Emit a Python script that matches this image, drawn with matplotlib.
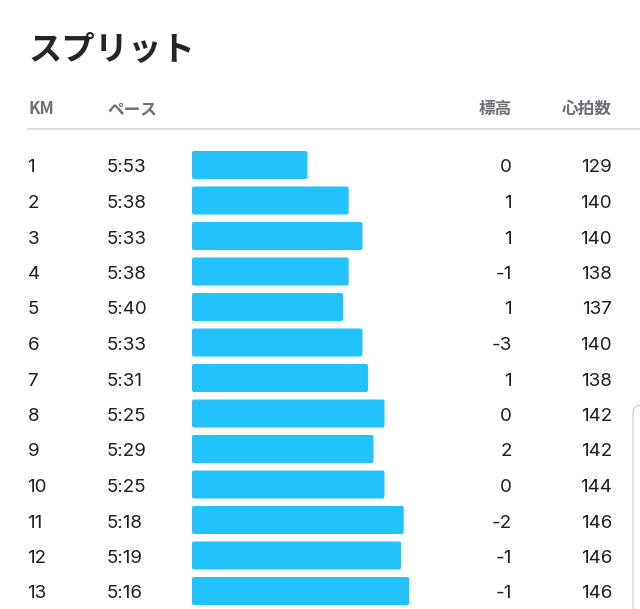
import matplotlib.pyplot as plt
from matplotlib.patches import FancyBboxPatch

plt.rcParams['font.family'] = ['Noto Sans CJK JP', 'DejaVu Sans']

# split data
km = [1, 2, 3, 4, 5, 6, 7, 8, 9, 10, 11, 12, 13]
pace = ['5:53', '5:38', '5:33', '5:38', '5:40', '5:33', '5:31',
        '5:25', '5:29', '5:25', '5:18', '5:19', '5:16']
elev = [0, 1, 1, -1, 1, -3, 1, 0, 2, 0, -2, -1, -1]
hr = [129, 140, 140, 138, 137, 140, 138, 142, 142, 144, 146, 146, 146]
headers = ['KM', 'ペース', '標高', '心拍数']

W, H = 640, 609
fig = plt.figure(figsize=(W / 100, H / 100), dpi=100)
ax = fig.add_axes([0, 0, 1, 1])
ax.set_xlim(0, W)
ax.set_ylim(H, 0)
ax.axis('off')

num_font = ['Inter', 'DejaVu Sans']

# title + header row
ax.text(28, 50, 'スプリット', fontsize=24, fontweight='bold', color='#242428',
        va='center', ha='left')
hcol = '#6e6e76'
hkw = dict(fontsize=12, fontweight='bold', color=hcol, va='baseline')
ax.text(28, 114, headers[0], ha='left', **hkw)
ax.text(107, 114, headers[1], ha='left', **hkw)
ax.text(512, 114, headers[2], ha='right', **hkw)
ax.text(612, 114, headers[3], ha='right', **hkw)
ax.plot([28, 640], [129, 129], color='#d9d9de', lw=1.3)

# faint card edge at right
ax.add_patch(FancyBboxPatch((633, 405), 30, 260, boxstyle='round,pad=0,rounding_size=8',
                            fc='none', ec='#c8c8cc', lw=0.8))

row_y0, row_dy = 165, 35.5
bar_x0, px_per_s, slow = 192, 2.754, 394.9
secs = [int(p.split(':')[0]) * 60 + int(p.split(':')[1]) for p in pace]
widths = [(slow - s) * px_per_s for s in secs]
ys = [row_y0 + i * row_dy for i in range(len(km))]

for y, w in zip(ys, widths):
    ax.add_patch(FancyBboxPatch((bar_x0, y - 14), w, 28,
                                boxstyle='round,pad=0,rounding_size=2',
                                fc='#22c2fd', ec='none'))

tcol = '#1e1e22'
nkw = dict(fontsize=13.5, fontweight='normal', color=tcol, va='baseline', family=num_font)
for i, y in enumerate(ys):
    b = y + 7.5
    ax.text(27.5, b, str(km[i]), ha='left', **nkw)
    ax.text(106.5, b, pace[i], ha='left', **nkw)
    ax.text(512, b, str(elev[i]), ha='right', **nkw)
    ax.text(612, b, str(hr[i]), ha='right', **nkw)

fig.savefig('out.png', dpi=100, facecolor='white')
